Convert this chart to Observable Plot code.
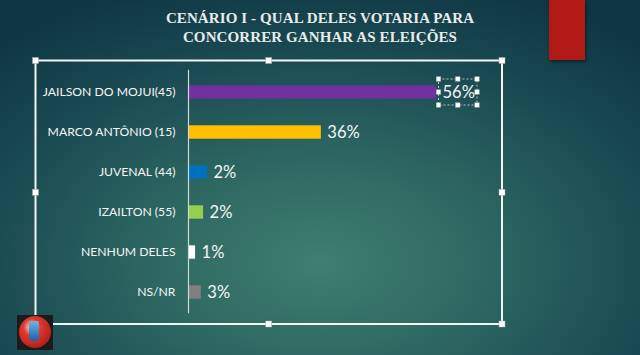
<!DOCTYPE html>
<html>
<head>
<meta charset="utf-8">
<script src="https://cdn.jsdelivr.net/npm/d3@7"></script>
<script src="https://cdn.jsdelivr.net/npm/@observablehq/plot@0.6"></script>
<style>
  html, body { margin: 0; padding: 0; }
  body { width: 640px; height: 355px; overflow: hidden; }
  #stage {
    position: relative; width: 640px; height: 355px; overflow: hidden;
    background: radial-gradient(ellipse 75% 85% at 50% 74%, #3f7e70 0%, #2d6762 35%, #1a4a52 70%, #0e3643 100%);
  }
  #title {
    position: absolute; left: 0; top: 9px; width: 640px; text-align: center;
    font-family: "Liberation Serif", serif; font-weight: bold; font-size: 15px;
    line-height: 19px; color: #e8ebe9; letter-spacing: 0.1px;
  }
  #red { position: absolute; left: 549px; top: 0; width: 36px; height: 60px; background: #b11916; box-shadow: 1px 2px 3px rgba(0,0,0,0.45); }
  #chart { position: absolute; left: 0; top: 0; }
  #frame { position: absolute; left: 0; top: 0; pointer-events: none; }
  #logo { position: absolute; left: 17px; top: 315px; width: 36px; height: 35px; background: #1b1b1b; }
  #logo .c { position: absolute; left: 2px; top: 1px; width: 32px; height: 32px; border-radius: 50%;
    background: radial-gradient(circle at 40% 35%, #f2f2f2 0%, #e03a2c 30%, #b0201a 75%, #6a1410 100%); }
  #logo .u { position: absolute; left: 12px; top: 6px; width: 10px; height: 20px; background: linear-gradient(#6fb3e0, #1b5fa8); border-radius: 2px 2px 4px 4px; }
</style>
</head>
<body>
<div id="stage">
  <div id="title">CENÁRIO I - QUAL DELES VOTARIA PARA<br>CONCORRER GANHAR AS ELEIÇÕES</div>
  <div id="red"></div>
  <div id="chart"></div>
  <svg id="frame" width="640" height="355"></svg>
  <div id="logo"><div class="c"></div><div class="u"></div></div>
</div>
<script>
// ---- data ----
const categories = ["JAILSON DO MOJUI(45)", "MARCO ANTÔNIO (15)", "JUVENAL (44)", "IZAILTON (55)", "NENHUM DELES", "NS/NR"];
const valueLabels = ["56%", "36%", "2%", "2%", "1%", "3%"];
// bar lengths as drawn in the picture (percent units)
const barLengths = [56, 30, 4.3, 3.4, 1.6, 2.9];
const barColors = ["#7030a0", "#ffc000", "#0070c0", "#92d050", "#ffffff", "#808080"];

const data = categories.map((c, i) => ({cat: c, len: barLengths[i], label: valueLabels[i], color: barColors[i]}));

const W = 640, H = 355;
const plot = Plot.plot({
  width: W, height: H,
  marginLeft: 188, marginRight: 204, marginTop: 69.7, marginBottom: 41.7,
  style: {background: "transparent", color: "#f6f6f6", fontFamily: "Lato, sans-serif", fontSize: "12.2px"},
  x: {domain: [0, 56], axis: null},
  y: {domain: categories, padding: 0, tickSize: 0, tickPadding: 13, label: null},
  color: {type: "identity"},
  marks: [
    Plot.barX(data, {x: "len", y: "cat", fill: "color", insetTop: 13.3, insetBottom: 13.3}),
    Plot.ruleX([0], {stroke: "#d0d8d6", strokeWidth: 1.2}),
    Plot.text(data, {x: "len", y: "cat", text: "label", textAnchor: "start", dx: 6, fill: "#f6f6f6", fontSize: 16.5, fontFamily: "Lato, sans-serif"})
  ]
});
document.getElementById("chart").appendChild(plot);

// ---- selection decorations ----
const svg = d3.select("#frame");
const hs = 6;
function handles(pts, size) {
  svg.selectAll(null).data(pts).join("rect")
    .attr("x", d => d[0] - size/2).attr("y", d => d[1] - size/2)
    .attr("width", size).attr("height", size)
    .attr("fill", "#ffffff").attr("stroke", "#9aa").attr("stroke-width", 0.5);
}
// outer chart-area selection frame
const fx0 = 35.5, fy0 = 60.5, fx1 = 502, fy1 = 324;
svg.append("rect").attr("x", fx0).attr("y", fy0).attr("width", fx1 - fx0).attr("height", fy1 - fy0)
  .attr("fill", "none").attr("stroke", "#f4f4f4").attr("stroke-width", 2);
const fmx = (fx0 + fx1) / 2, fmy = (fy0 + fy1) / 2;
handles([[fx0, fy0], [fmx, fy0], [fx1, fy0], [fx0, fmy], [fx1, fmy], [fx0, fy1], [fmx, fy1], [fx1, fy1]], hs);

// dashed box around the top value label
const xs = plot.scale("x"), ys = plot.scale("y");
const bx0 = xs.apply(barLengths[0]) + 2.5, bx1 = bx0 + 38.5;
const yc = ys.apply(categories[0]) + ys.bandwidth / 2;
const by0 = yc - 13, by1 = yc + 13;
svg.append("rect").attr("x", bx0).attr("y", by0).attr("width", bx1 - bx0).attr("height", by1 - by0)
  .attr("fill", "none").attr("stroke", "#b8c4c4").attr("stroke-width", 1).attr("stroke-dasharray", "2,2");
const bmx = (bx0 + bx1) / 2, bmy = (by0 + by1) / 2;
handles([[bx0, by0], [bmx, by0], [bx1, by0], [bx0, bmy], [bx1, bmy], [bx0, by1], [bmx, by1], [bx1, by1]], 4.5);
</script>
</body>
</html>
